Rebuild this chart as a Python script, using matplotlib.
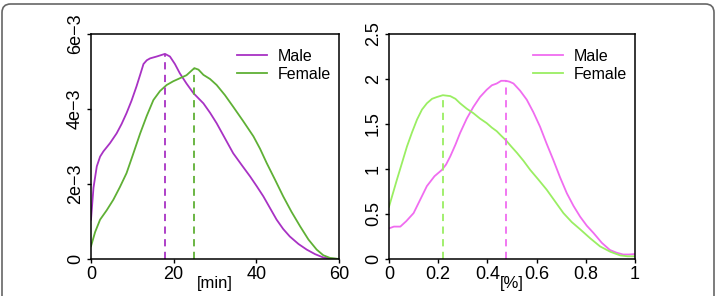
import matplotlib.pyplot as plt
from matplotlib.patches import FancyBboxPatch

plt.rcParams['font.family'] = ['Liberation Sans', 'DejaVu Sans']

# left panel: duration [min], density
time_male_x = [0, 0.6, 1.4, 2.2, 3.0, 4.6, 6.2, 7.4, 8.6, 9.8, 11.0, 12.0, 12.7, 13.5, 14.3, 15.9,
               17.9, 19.1, 20.3, 21.5, 23.1, 24.8, 27.2, 28.8, 30.4, 32.4, 34.4, 36.5, 38.5,
               40.1, 41.7, 43.3, 44.9, 46.5, 48.1, 50.2, 52.2, 54.2, 56.2, 58.0, 60]
time_male_y = [1.05, 1.9, 2.47, 2.73, 2.87, 3.09, 3.35, 3.6, 3.89, 4.22, 4.6, 4.95, 5.2, 5.3,
               5.35, 5.4, 5.47, 5.4, 5.2, 4.95, 4.68, 4.42, 4.15, 3.9, 3.62, 3.22, 2.82, 2.5,
               2.2, 1.94, 1.67, 1.36, 1.05, 0.8, 0.6, 0.4, 0.25, 0.13, 0.04, 0.01, 0.0]
time_female_x = [0, 1.0, 2.2, 3.8, 5.4, 7.0, 8.6, 10.2, 11.9, 13.5, 15.1, 16.7, 18.3, 19.9,
                 21.5, 23.1, 25.0, 26.0, 27.2, 28.8, 30.4, 32.4, 34.4, 36.8, 39.3, 40.9, 42.5,
                 44.5, 46.5, 48.5, 50.6, 52.6, 54.6, 56.2, 57.8, 60]
time_female_y = [0.34, 0.72, 1.05, 1.3, 1.58, 1.92, 2.29, 2.8, 3.35, 3.82, 4.24, 4.48, 4.64,
                 4.74, 4.82, 4.9, 5.09, 5.05, 4.91, 4.8, 4.64, 4.37, 4.06, 3.68, 3.27, 2.94,
                 2.56, 2.12, 1.67, 1.26, 0.87, 0.52, 0.25, 0.1, 0.03, 0.0]
time_mode_male = 17.9
time_mode_female = 25.0

# right panel: share [%], density
pct_male_x = [0, 0.02, 0.046, 0.07, 0.1, 0.127, 0.154, 0.185, 0.215, 0.232, 0.249, 0.27,
              0.289, 0.316, 0.343, 0.37, 0.397, 0.418, 0.438, 0.456, 0.475, 0.49, 0.506,
              0.533, 0.56, 0.587, 0.614, 0.641, 0.668, 0.695, 0.723, 0.75, 0.777, 0.804,
              0.831, 0.865, 0.898, 0.925, 0.952, 0.975, 1.0]
pct_male_y = [0.34, 0.36, 0.36, 0.42, 0.51, 0.66, 0.81, 0.92, 0.99, 1.05, 1.14, 1.27, 1.4,
              1.56, 1.69, 1.8, 1.88, 1.93, 1.95, 1.98, 1.98, 1.97, 1.95, 1.87, 1.77, 1.63,
              1.47, 1.28, 1.1, 0.91, 0.73, 0.59, 0.47, 0.37, 0.29, 0.18, 0.1, 0.07, 0.05,
              0.05, 0.055]
pct_female_x = [0, 0.016, 0.032, 0.052, 0.073, 0.094, 0.114, 0.134, 0.154, 0.175, 0.195,
                0.219, 0.249, 0.27, 0.289, 0.316, 0.343, 0.37, 0.397, 0.418, 0.438, 0.456,
                0.475, 0.497, 0.52, 0.547, 0.574, 0.608, 0.641, 0.675, 0.709, 0.743, 0.777,
                0.818, 0.858, 0.9, 0.94, 0.97, 1.0]
pct_female_y = [0.58, 0.73, 0.88, 1.06, 1.25, 1.41, 1.55, 1.66, 1.73, 1.78, 1.8, 1.82, 1.81,
                1.78, 1.73, 1.67, 1.62, 1.56, 1.51, 1.46, 1.42, 1.37, 1.32, 1.25, 1.18, 1.09,
                0.99, 0.88, 0.77, 0.64, 0.51, 0.41, 0.33, 0.23, 0.14, 0.08, 0.04, 0.03, 0.03]
pct_mode_male = 0.475
pct_mode_female = 0.219

fig = plt.figure(figsize=(7.17, 2.96), dpi=100)

# rounded frame around the figure
frame = FancyBboxPatch((2 / 717, -0.2), 712 / 717, 1.2 - 4 / 296,
                       boxstyle='round,pad=0,rounding_size=0.012',
                       transform=fig.transFigure, fill=False,
                       edgecolor='#666666', linewidth=1.2, mutation_aspect=717 / 296)
fig.patches.append(frame)

ax1 = fig.add_axes([91 / 717, 37 / 296, 248 / 717, 225 / 296])
ax2 = fig.add_axes([389 / 717, 37 / 296, 246 / 717, 225 / 296])


def style_axis(ax):
    for s in ax.spines.values():
        s.set_linewidth(1.1)
    ax.tick_params(direction='out', length=3, width=1.0, labelsize=13, pad=2)
    for lab in ax.get_yticklabels():
        lab.set_rotation(90)
        lab.set_va('center')


leg_kw = dict(loc='upper right', frameon=False, fontsize=11.5, handlelength=1.9,
              handletextpad=0.65, labelspacing=0.2, borderaxespad=0.1,
              bbox_to_anchor=(1.0, 0.97))

# left panel
c_m1, c_f1 = '#a832c4', '#5fb035'
ax1.plot(time_male_x, [v * 1e-3 for v in time_male_y], color=c_m1, lw=1.3, label='Male')
ax1.plot(time_female_x, [v * 1e-3 for v in time_female_y], color=c_f1, lw=1.3, label='Female')
ax1.plot([time_mode_male, time_mode_male], [0, max(time_male_y) * 1e-3],
         color=c_m1, lw=1.3, ls=(0, (4, 3)))
ax1.plot([time_mode_female, time_mode_female], [0, max(time_female_y) * 1e-3],
         color=c_f1, lw=1.3, ls=(0, (4, 3)))
ax1.set_xlim(0, 60)
ax1.set_ylim(0, 6e-3)
ax1.set_xticks([0, 20, 40, 60])
ax1.set_yticks([0, 2e-3, 4e-3, 6e-3])
ax1.set_yticklabels(['0', '2e\u22123', '4e\u22123', '6e\u22123'])
ax1.set_xlabel('[min]', fontsize=12, labelpad=-5)
style_axis(ax1)
ax1.legend(**leg_kw)

# right panel
c_m2, c_f2 = '#f06cf0', '#9aee62'
ax2.plot(pct_male_x, pct_male_y, color=c_m2, lw=1.3, label='Male')
ax2.plot(pct_female_x, pct_female_y, color=c_f2, lw=1.3, label='Female')
ax2.plot([pct_mode_male, pct_mode_male], [0, max(pct_male_y)],
         color=c_m2, lw=1.3, ls=(0, (4, 3)))
ax2.plot([pct_mode_female, pct_mode_female], [0, max(pct_female_y)],
         color=c_f2, lw=1.3, ls=(0, (4, 3)))
ax2.set_xlim(0, 1)
ax2.set_ylim(0, 2.5)
ax2.set_xticks([0, 0.2, 0.4, 0.6, 0.8, 1.0])
ax2.set_xticklabels(['0', '0.2', '0.4', '0.6', '0.8', '1'])
ax2.set_yticks([0, 0.5, 1, 1.5, 2, 2.5])
ax2.set_yticklabels(['0', '0.5', '1', '1.5', '2', '2.5'])
ax2.set_xlabel('[%]', fontsize=12, labelpad=-5)
style_axis(ax2)
ax2.legend(**leg_kw)

fig.savefig('out.png', dpi=100)
